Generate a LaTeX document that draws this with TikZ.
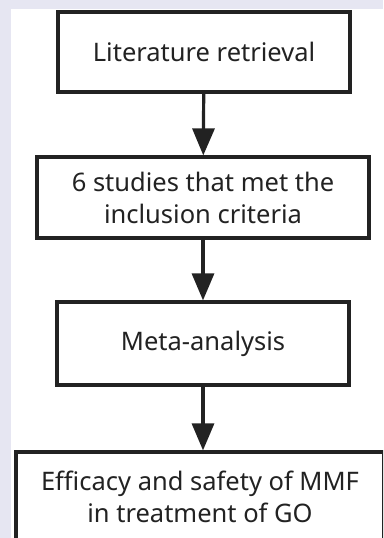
\documentclass[tikz,border=0pt]{standalone}
\usepackage{fontspec}
\setmainfont{Noto Sans}
\usetikzlibrary{positioning,arrows.meta}
\definecolor{pagebg}{HTML}{E6E6F2}
\definecolor{ink}{HTML}{222222}
\tikzset{
  stepbox/.style={draw=ink, line width=3.2pt, fill=white, text=ink,
    align=center, font=\fontsize{25.5}{32}\selectfont, inner sep=0pt},
  flow/.style={draw=ink, line width=3.2pt, -{Triangle[length=27pt,width=22pt]}}
}
\begin{document}
\begin{tikzpicture}[x=1pt,y=-1pt]
    \fill[pagebg] (0,0) rectangle (383,538);
    \fill[white] (11,9) rectangle (383,538);
    \useasboundingbox (0,0) rectangle (383,538);
    \node[stepbox, minimum width=292pt, minimum height=80pt] (lit) at (204,52) {Literature retrieval};
    \node[stepbox, minimum width=332pt, minimum height=81pt] (incl) at (203,197.5) {6 studies that met the\\inclusion criteria};
    \node[stepbox, minimum width=292pt, minimum height=83pt] (meta) at (203,343.5) {Meta-analysis};
    \begin{scope}
        \clip (0,0) rectangle (383,538);
        \node[stepbox, minimum width=368pt, minimum height=90pt] (eff) at (200,497) {Efficacy and safety of MMF\\in treatment of GO};
    \end{scope}
    \draw[flow] (lit) -- (incl);
    \draw[flow] (incl) -- (meta);
    \draw[flow] (meta) -- (meta|-eff.north);
\end{tikzpicture}
\end{document}
